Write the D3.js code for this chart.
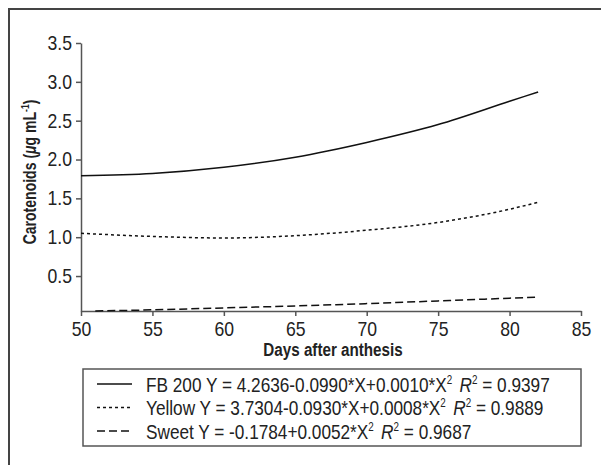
<!DOCTYPE html>
<html>
  <head>
    <meta charset="utf-8">
    <script type="text/javascript" src="https://d3js.org/d3.v7.min.js"></script>
    <title></title>
  </head>
  <style media="screen">
    body { margin: 0; background: #fff; }
    text { font-family: "Liberation Sans", Arial, sans-serif; fill: #222; }
  </style>
  <body>

    <script type="text/javascript">

    // days after anthesis and carotenoid values
    var days = [50, 55, 60, 65, 70, 75, 80, 82];
    var fb200 = [1.79, 1.82, 1.90, 2.03, 2.22, 2.45, 2.75, 2.87];
    var yellow = [1.05, 1.01, 0.99, 1.02, 1.09, 1.19, 1.36, 1.45];
    var sweetDays = [51, 55, 60, 65, 70, 75, 80, 82];
    var sweet = [0.05, 0.065, 0.09, 0.115, 0.145, 0.18, 0.215, 0.23];

    var xTicks = [50, 55, 60, 65, 70, 75, 80, 85];
    var yTicks = [0.5, 1.0, 1.5, 2.0, 2.5, 3.0, 3.5];

    var legendItems = [
      {name: "FB 200", eq: ["Y = 4.2636-0.0990*X+0.0010*X", "2"], r2: "0.9397", dash: null},
      {name: "Yellow", eq: ["Y = 3.7304-0.0930*X+0.0008*X", "2"], r2: "0.9889", dash: "3,3"},
      {name: "Sweet", eq: ["Y = -0.1784+0.0052*X", "2"], r2: "0.9687", dash: "8,4"}
    ];

    var W = 601, H = 465;
    var margin = {top: 43, left: 81},
        width = 500,
        height = 268;
    var sx = 0.8; // squeeze to mimic a condensed face

    var svg = d3.select("body").append("svg")
        .attr("width", W)
        .attr("height", H);

    // outer frame
    svg.append("path")
        .attr("d", "M9,465V9H601")
        .attr("fill", "none")
        .attr("stroke", "#444")
        .attr("stroke-width", 2);

    var g = svg.append("g")
        .attr("transform", "translate(" + margin.left + "," + margin.top + ")");

    var x = d3.scaleLinear().domain([50, 85]).range([0, width]);
    var y = d3.scaleLinear().domain([0.05, 3.5]).range([height, 0]);

    var xAxis = d3.axisBottom(x)
      .tickValues(xTicks)
      .tickSizeInner(5)
      .tickSizeOuter(0)
      .tickPadding(6)
      .tickFormat(d3.format("d"));

    var yAxis = d3.axisLeft(y)
      .tickValues(yTicks)
      .tickSizeInner(5)
      .tickSizeOuter(0)
      .tickPadding(4)
      .tickFormat(d3.format(".1f"));

    var gx = g.append("g")
        .attr("transform", "translate(0," + height + ")")
        .call(xAxis);

    var gy = g.append("g")
        .call(yAxis);

    var tsx = 0.88;
    [gx, gy].forEach(function(a) {
      a.select(".domain").attr("stroke", "#555").attr("stroke-width", 1.5);
      a.selectAll(".tick line").attr("stroke", "#555").attr("stroke-width", 1.5);
      a.selectAll(".tick text").style("font-size", "20px").attr("fill", "#222")
        .attr("transform", "scale(" + tsx + ",1)");
    });
    gy.selectAll(".tick text").attr("x", -9 / tsx);

    var line = d3.line()
      .curve(d3.curveMonotoneX)
      .x(function(d) { return x(d[0]); })
      .y(function(d) { return y(d[1]); });

    var series = [
      {pts: d3.zip(days, fb200), dash: null},
      {pts: d3.zip(days, yellow), dash: "3,3"},
      {pts: d3.zip(sweetDays, sweet), dash: "8,4"}
    ];

    series.forEach(function(s) {
      g.append("path")
          .datum(s.pts)
          .attr("d", line)
          .attr("fill", "none")
          .attr("stroke", "#111")
          .attr("stroke-width", 1.5)
          .attr("stroke-dasharray", s.dash);
    });

    // axis titles
    g.append("text")
        .attr("transform", "translate(" + (333 - margin.left) + "," + (356 - margin.top) + ") scale(" + sx + ",1)")
        .attr("text-anchor", "middle")
        .style("font-size", "19px")
        .style("font-weight", "bold")
        .text("Days after anthesis");

    var yl = g.append("text")
        .attr("transform", "translate(" + (36 - margin.left) + "," + (172 - margin.top) + ") rotate(-90) scale(0.78,1)")
        .attr("text-anchor", "middle")
        .style("font-size", "18px")
        .style("font-weight", "bold");
    yl.append("tspan").text("Carotenoids (");
    yl.append("tspan").style("font-style", "italic").text("\u03bc");
    yl.append("tspan").text("g mL");
    yl.append("tspan").attr("dy", -7).style("font-size", "11px").text("-1");
    yl.append("tspan").attr("dy", 7).text(")");

    // legend
    var lg = svg.append("g");
    lg.append("rect")
        .attr("x", 83).attr("y", 369)
        .attr("width", 498).attr("height", 77)
        .attr("fill", "#fff")
        .attr("stroke", "#555")
        .attr("stroke-width", 1.5);

    legendItems.forEach(function(d, i) {
      var cy = 384 + i * 23.5;
      lg.append("line")
          .attr("x1", 97).attr("x2", 132)
          .attr("y1", cy).attr("y2", cy)
          .attr("stroke", "#111")
          .attr("stroke-width", 1.5)
          .attr("stroke-dasharray", d.dash);
      var t = lg.append("text")
          .attr("transform", "translate(146," + (cy + 7.5) + ") scale(0.82,1)")
          .style("font-size", "21px");
      t.append("tspan").text(d.name + " " + d.eq[0]);
      t.append("tspan").attr("dy", -8).style("font-size", "12px").text(d.eq[1]);
      t.append("tspan").attr("dy", 8).attr("dx", 9).style("font-style", "italic").text("R");
      t.append("tspan").attr("dy", -8).style("font-size", "12px").text("2");
      t.append("tspan").attr("dy", 8).text(" = " + d.r2);
    });

    </script>

  </body>
</html>
